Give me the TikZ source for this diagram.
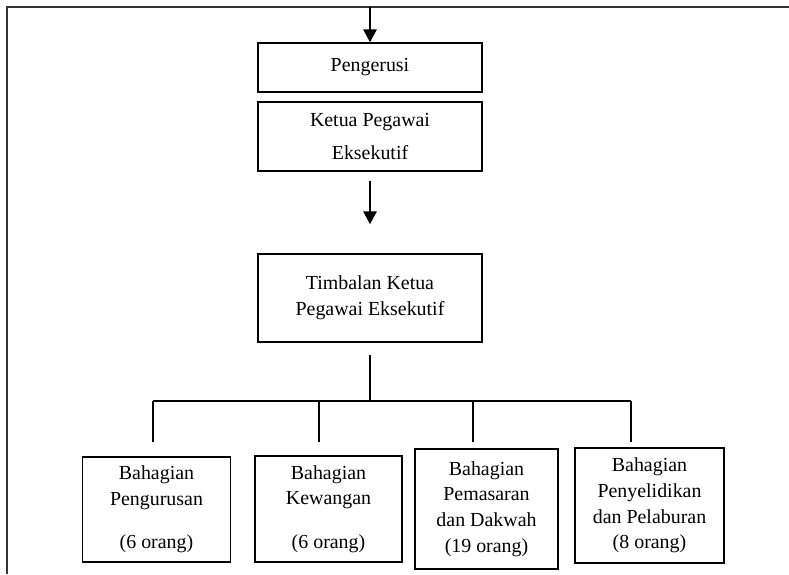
\documentclass[tikz,border=0pt]{standalone}
\usepackage{fontspec}
\setmainfont{Liberation Serif}
\usetikzlibrary{arrows.meta,positioning}

\tikzset{
  kotak/.style={draw, line width=1.1pt, align=center, inner sep=0pt,
    font=\fontsize{17}{22}\selectfont},
  anak/.style={-{Triangle[width=11pt,length=11pt]}, line width=2.3pt},
  garis/.style={line width=1pt},
  bingkai/.style={draw=black!80, line width=1.45pt}
}

\begin{document}
\begin{tikzpicture}[x=0.03cm,y=-0.03cm]
      \useasboundingbox (0,0) rectangle (789,574);

      % frame
      \draw[bingkai] (7,574) -- (7,7) -- (789,7);

      % top of the chart
      \node[kotak, minimum width=6.72cm, minimum height=1.47cm] (pengerusi) at (370,67.5) {Pengerusi};
      \node[kotak, minimum width=6.72cm, minimum height=2.07cm] (ketua) at (370,136.5) {Ketua Pegawai\\[6pt]Eksekutif};
      \node[kotak, minimum width=6.72cm, minimum height=2.64cm] (timbalan) at (370,298) {Timbalan Ketua\\Pegawai Eksekutif};

      \coordinate (atas) at (370,7);
      \draw[anak] (atas) -- (pengerusi);
      \draw[anak, shorten <=0.27cm, shorten >=0.87cm] (ketua) -- (timbalan);

      % bahagian
      \node[kotak, minimum width=4.44cm, minimum height=3.15cm] (urus) at (156.5,509.5) {Bahagian\\Pengurusan\\[15pt](6 orang)};
      \node[kotak, minimum width=4.41cm, minimum height=3.18cm] (wang) at (328.5,509) {Bahagian\\Kewangan\\[15pt](6 orang)};
      \node[kotak, minimum width=4.29cm, minimum height=3.6cm] (pasar) at (486.5,509) {Bahagian\\Pemasaran\\dan Dakwah\\(19 orang)};
      \node[kotak, minimum width=4.47cm, minimum height=3.45cm] (selidik) at (649.5,505.5) {Bahagian\\Penyelidikan\\dan Pelaburan\\(8 orang)};

      % tree lines
      \coordinate (bus) at (370,401);
      \coordinate (d1) at (153,401);
      \coordinate (d2) at (319,401);
      \coordinate (d3) at (473,401);
      \coordinate (d4) at (631,401);
      \draw[garis, shorten <=0.36cm] (timbalan.south) -- (bus);
      \draw[garis] (d1) -- (d4);
      \foreach \d in {d1,d2,d3,d4}
        \draw[garis] (\d) -- ++(0,41);
\end{tikzpicture}
\end{document}
